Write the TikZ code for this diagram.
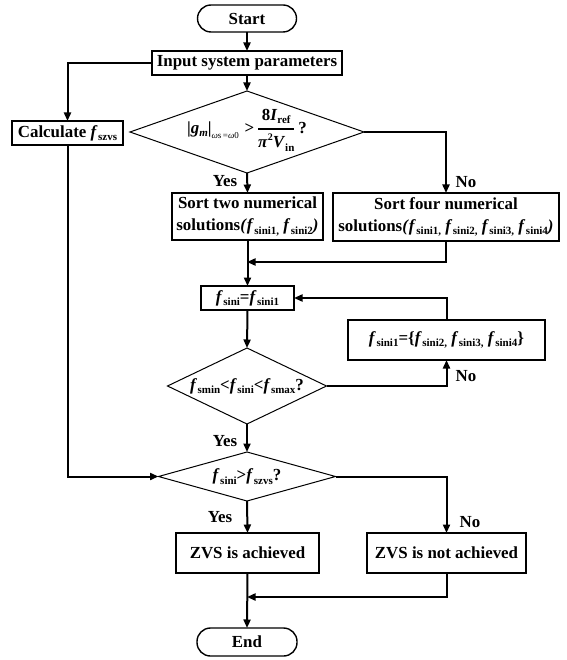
\documentclass[tikz,border=0pt]{standalone}
\usepackage{fontspec}
\usepackage{amsmath}
\setmainfont{Liberation Serif}
\usetikzlibrary{arrows.meta,shapes.geometric}
\newcommand\bsub[1]{\raisebox{-3.5pt}{\fontsize{11}{11}\selectfont\bfseries\upshape #1}}
\newcommand\fsub[1]{\textit{f}\kern0.5pt\bsub{#1}}
\begin{document}
\begin{tikzpicture}[x=1pt,y=-1pt,
  font=\fontsize{16.9}{22}\selectfont\bfseries,
  box/.style={draw, line width=1.4pt, inner sep=0pt, outer sep=0pt, align=center},
  term/.style={draw, line width=1.4pt, rounded corners=13.5pt, inner sep=0pt, outer sep=0pt},
  dia/.style={draw, diamond, line width=1pt, inner sep=0pt, outer sep=0pt},
  txt/.style={inner sep=0pt, outer sep=0pt},
  lbl/.style={inner sep=0pt, outer sep=0pt},
  arr/.style={line width=2pt, -{Triangle[length=8.5pt,width=7pt]}}]
\useasboundingbox (0,0) rectangle (566,660);

\node[term, minimum width=99, minimum height=27] (start) at (247,18.5) {Start};
\node[box, minimum width=190, minimum height=24] (in) at (247,63) {Input system parameters};
\node[box, minimum width=111, minimum height=24] (calc) at (67.5,133) {Calculate \fsub{szvs}};
\node[dia, minimum width=234, minimum height=82] (d1) at (247,132) {};
\node[txt] (d1t) at (247,130) {|\textit{g}\bsub{\textit{m}}|\raisebox{-5pt}{\fontsize{9}{9}\selectfont\mdseries\textit{ω}s\,=\textit{ω}0}\,\,>\,$\genfrac{}{}{1.5pt}{0}{\hbox{8\textit{I}\bsub{ref}}}{\hbox{\textit{π}\raisebox{7pt}{\fontsize{10}{10}\selectfont 2}\textit{V}\bsub{in}}}$\,?};
\node[box, minimum width=151, minimum height=47] (s2) at (247.5,216.5) {Sort two numerical\\solutions\textit{(}\fsub{sini1,} \fsub{sini2}\textit{)}};
\node[box, minimum width=226, minimum height=48] (s4) at (446,217) {Sort four numerical\\solutions\textit{(}\fsub{sini1,} \fsub{sini2,} \fsub{sini3,} \fsub{sini4}\textit{)}};
\coordinate (m1) at (247,262);
\node[box, minimum width=93, minimum height=24] (fs) at (247.5,298) {\fsub{sini}=\fsub{sini1}};
\node[box, minimum width=197, minimum height=40] (fset) at (446.5,340) {\fsub{sini1}=\{\fsub{sini2,} \fsub{sini3,} \fsub{sini4}\}};
\node[dia, minimum width=159, minimum height=76] (d2) at (247,386) {};
\node[txt] (d2t) at (247,386) {\fsub{smin}\textit{<}\fsub{sini}\textit{<}\fsub{smax}?};
\node[dia, minimum width=177, minimum height=49] (d3) at (247,476.5) {};
\node[txt] (d3t) at (247,476.5) {\fsub{sini}>\fsub{szvs}?};
\node[box, minimum width=143, minimum height=40] (za) at (247.5,553) {ZVS is achieved};
\node[box, minimum width=159, minimum height=40] (zn) at (446.5,553) {ZVS is not achieved};
\coordinate (m2) at (247,597);
\node[term, minimum width=100, minimum height=28] (end) at (247,642) {End};

\node[lbl] (y1) at (225,181) {Yes};
\node[lbl] (n1) at (466,182) {No};
\node[lbl] (n2) at (466,376) {No};
\node[lbl] (y2) at (225,441) {Yes};
\node[lbl] (y3) at (220,517) {Yes};
\node[lbl] (n3) at (470,522) {No};

\draw[arr] (start) -- (in);
\draw[arr] (in.west) -| (calc.north);
\draw[arr] (in.south) -- (d1.north);
\draw[arr] (d1.south) -- (s2.north);
\draw[arr] (d1.east) -| (s4.north);
\draw[arr] (s2.south) -- (fs.north);
\draw[arr] (s4.south) |- (m1);
\draw[arr] (fs.south) -- (d2.north);
\draw[arr] (d2.east) -| (fset.south);
\draw[arr] (fset.north) |- (fs.east);
\draw[arr] (d2.south) -- (d3.north);
\draw[arr] (calc.south) |- (d3.west);
\draw[arr] (d3.south) -- (za.north);
\draw[arr] (d3.east) -| (zn.north);
\draw[arr] (zn.south) |- (m2);
\draw[arr] (za.south) -- (end.north);
\end{tikzpicture}
\end{document}
